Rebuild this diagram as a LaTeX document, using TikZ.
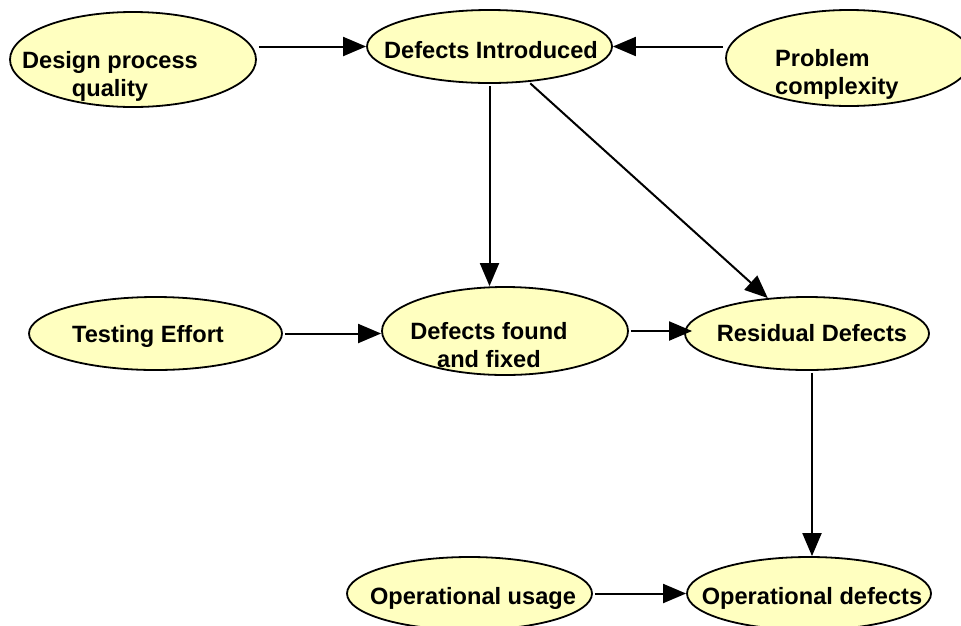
\documentclass[tikz,border=0pt]{standalone}
\usepackage{fontspec}
\setsansfont{Liberation Sans}
\usetikzlibrary{arrows.meta,shapes.geometric}
\definecolor{bubblefill}{HTML}{FFFFC0}
\begin{document}
\begin{tikzpicture}[
      x=1pt, y=-1pt,
      font=\fontsize{23.6}{28}\selectfont\sffamily\bfseries,
      bubble/.style 2 args={ellipse, draw, fill=bubblefill, line width=1.8pt,
        inner sep=0pt, minimum width=#1, minimum height=#2},
      txt/.style={inner sep=0pt, align=center},
      flow/.style={-{Triangle[length=23pt,width=19pt]}, line width=2pt, shorten <=2pt}
    ]
      \useasboundingbox (0,0) rectangle (961,625);

      \node (Design) at (133,59.5) [bubble={246}{95}] {};
      \node (Intro) at (489.5,46.5) [bubble={245}{73}] {};
      \node (Problem) at (849,58) [bubble={246}{96}] {};
      \node (Testing) at (155.5,333.5) [bubble={253}{73}] {};
      \node (Found) at (505,331) [bubble={246}{88}] {};
      \node (Residual) at (807,333.5) [bubble={244}{73}] {};
      \node (OpUsage) at (469.5,593.5) [bubble={245}{73}] {};
      \node (OpDefects) at (809,593.5) [bubble={244}{73}] {};

      \node (DesignText) at (110,76) [txt] {Design process\\quality};
      \node (IntroText) at (491,58) [txt, anchor=base] {Defects Introduced};
      \node (ProblemText) at (775,74) [txt, anchor=west, align=left] {Problem\\complexity};
      \node (TestingText) at (148,342) [txt, anchor=base] {Testing Effort};
      \node (FoundText) at (489,345) [txt] {Defects found\\and fixed};
      \node (ResidualText) at (812,341) [txt, anchor=base] {Residual Defects};
      \node (OpUsageText) at (473,604) [txt, anchor=base] {Operational usage};
      \node (OpDefectsText) at (812,604) [txt, anchor=base] {Operational defects};

      \draw[flow] (Design.east |- Intro.west) -- (Intro.west);
      \draw[flow] (Problem.west |- Intro.east) -- (Intro.east);
      \draw[flow] (Intro.south) -- (Intro.south |- Found.north);
      \draw[flow] (Intro) -- (Residual);
      \draw[flow] (Testing.east) -- (Testing.east -| Found.west);
      \draw[flow, shorten >=-8pt] (Found.east) -- (Found.east -| Residual.west);
      \draw[flow] ([xshift=5pt]Residual.south) -- ([xshift=5pt]Residual.south |- OpDefects.north);
      \draw[flow] (OpUsage.east) -- (OpUsage.east -| OpDefects.west);
    \end{tikzpicture}
\end{document}
